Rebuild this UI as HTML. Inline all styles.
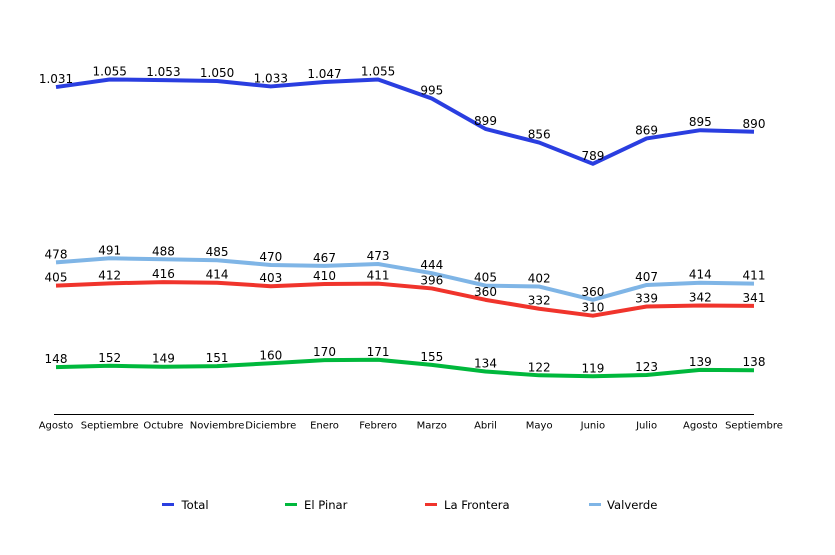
<!DOCTYPE html>
<html>
<head>
<meta charset="utf-8">
<style>
html,body{margin:0;padding:0;background:#fff;}
svg{display:block;}
text{font-family:"DejaVu Sans","Liberation Sans",sans-serif;fill:#000;}
</style>
</head>
<body>
<svg width="835" height="555" viewBox="0 0 835 555" xmlns="http://www.w3.org/2000/svg">
<rect width="835" height="555" fill="#fff"/>
<line x1="54" y1="414.5" x2="754" y2="414.5" stroke="#000" stroke-width="1"/>

<g fill="none" stroke-width="4" stroke-linejoin="round" stroke-linecap="butt">
<polyline stroke="#2a3ee0" points="56,87.07 109.7,79.46 163.4,80.09 217.1,81.04 270.8,86.44 324.5,82 378.1,79.46 431.8,98.49 485.5,128.93 539.2,142.56 592.9,163.81 646.6,138.44 700.3,130.2 754,131.78"/>
<polyline stroke="#00b83c" points="56,367.07 109.7,365.8 163.4,366.75 217.1,366.12 270.8,363.26 324.5,360.09 378.1,359.78 431.8,364.85 485.5,371.51 539.2,375.31 592.9,376.27 646.6,375 700.3,369.92 754,370.24"/>
<polyline stroke="#f0342c" points="56,285.57 109.7,283.35 163.4,282.09 217.1,282.72 270.8,286.21 324.5,283.99 378.1,283.67 431.8,288.43 485.5,299.84 539.2,308.72 592.9,315.7 646.6,306.5 700.3,305.55 754,305.87"/>
<polyline stroke="#7fb5e6" points="56,262.43 109.7,258.3 163.4,259.26 217.1,260.21 270.8,264.96 324.5,265.91 378.1,264.01 431.8,273.21 485.5,285.57 539.2,286.53 592.9,299.84 646.6,284.94 700.3,282.72 754,283.67"/>
</g>

<g font-size="12" text-anchor="middle">
<text x="56" y="83">1.031</text>
<text x="109.7" y="75.5">1.055</text>
<text x="163.4" y="76">1.053</text>
<text x="217.1" y="77">1.050</text>
<text x="270.8" y="82.4">1.033</text>
<text x="324.5" y="78">1.047</text>
<text x="378.1" y="75.5">1.055</text>
<text x="431.8" y="94.5">995</text>
<text x="485.5" y="125">899</text>
<text x="539.2" y="138.5">856</text>
<text x="592.9" y="159.8">789</text>
<text x="646.6" y="134.4">869</text>
<text x="700.3" y="126.2">895</text>
<text x="754" y="127.8">890</text>

<text x="56" y="363">148</text>
<text x="109.7" y="361.8">152</text>
<text x="163.4" y="362.7">149</text>
<text x="217.1" y="362.1">151</text>
<text x="270.8" y="359.3">160</text>
<text x="324.5" y="356.1">170</text>
<text x="378.1" y="355.8">171</text>
<text x="431.8" y="360.8">155</text>
<text x="485.5" y="367.5">134</text>
<text x="539.2" y="371.3">122</text>
<text x="592.9" y="372.3">119</text>
<text x="646.6" y="371">123</text>
<text x="700.3" y="365.9">139</text>
<text x="754" y="366.2">138</text>

<text x="56" y="281.6">405</text>
<text x="109.7" y="279.3">412</text>
<text x="163.4" y="278.1">416</text>
<text x="217.1" y="278.7">414</text>
<text x="270.8" y="282.2">403</text>
<text x="324.5" y="280">410</text>
<text x="378.1" y="279.7">411</text>
<text x="431.8" y="284.4">396</text>
<text x="485.5" y="295.8">360</text>
<text x="539.2" y="304.7">332</text>
<text x="592.9" y="311.7">310</text>
<text x="646.6" y="302.5">339</text>
<text x="700.3" y="301.5">342</text>
<text x="754" y="301.9">341</text>

<text x="56" y="258.4">478</text>
<text x="109.7" y="254.3">491</text>
<text x="163.4" y="255.3">488</text>
<text x="217.1" y="256.2">485</text>
<text x="270.8" y="261">470</text>
<text x="324.5" y="261.9">467</text>
<text x="378.1" y="260">473</text>
<text x="431.8" y="269.2">444</text>
<text x="485.5" y="281.6">405</text>
<text x="539.2" y="282.5">402</text>
<text x="592.9" y="295.8">360</text>
<text x="646.6" y="280.9">407</text>
<text x="700.3" y="278.7">414</text>
<text x="754" y="279.7">411</text>
</g>

<g font-size="10" text-anchor="middle">
<text x="56" y="428.5">Agosto</text>
<text x="109.7" y="428.5">Septiembre</text>
<text x="163.4" y="428.5">Octubre</text>
<text x="217.1" y="428.5">Noviembre</text>
<text x="270.8" y="428.5">Diciembre</text>
<text x="324.5" y="428.5">Enero</text>
<text x="378.1" y="428.5">Febrero</text>
<text x="431.8" y="428.5">Marzo</text>
<text x="485.5" y="428.5">Abril</text>
<text x="539.2" y="428.5">Mayo</text>
<text x="592.9" y="428.5">Junio</text>
<text x="646.6" y="428.5">Julio</text>
<text x="700.3" y="428.5">Agosto</text>
<text x="754" y="428.5">Septiembre</text>
</g>

<g stroke-width="3">
<line x1="162" y1="504.5" x2="174" y2="504.5" stroke="#2a3ee0"/>
<line x1="285" y1="504.5" x2="297" y2="504.5" stroke="#00b83c"/>
<line x1="425" y1="504.5" x2="437" y2="504.5" stroke="#f0342c"/>
<line x1="589" y1="504.5" x2="601" y2="504.5" stroke="#7fb5e6"/>
</g>
<g font-size="11.6">
<text x="181.5" y="509">Total</text>
<text x="304" y="509">El Pinar</text>
<text x="444" y="509">La Frontera</text>
<text x="607" y="509">Valverde</text>
</g>
</svg>
</body>
</html>
